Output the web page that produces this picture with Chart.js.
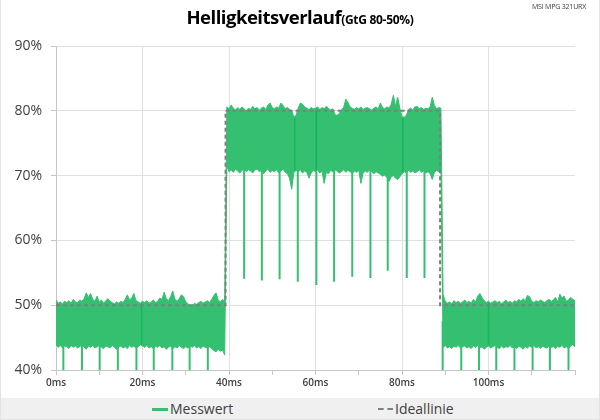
<!DOCTYPE html>
<html><head><meta charset="utf-8">
<script src="https://cdn.jsdelivr.net/npm/chart.js@4"></script>
<style>
body{margin:0;background:#fff;}
#wrap{position:relative;width:600px;height:420px;background:#fff;overflow:hidden;box-sizing:border-box;border-left:1px solid #e3e3e3;border-right:1px solid #e3e3e3;border-bottom:1px solid #e3e3e3;}
#c{position:absolute;left:-1px;top:0;}
#title{position:absolute;left:0;top:3px;width:598px;text-align:center;color:#000;font-family:"Open Sans",sans-serif;font-weight:bold;white-space:nowrap;line-height:28px;}
#title .t1{font-size:18.5px;letter-spacing:-0.5px;}
#title .t2{font-size:12px;letter-spacing:-0.3px;}
#mark{position:absolute;right:13px;top:2px;font-family:"Open Sans",sans-serif;font-size:7px;letter-spacing:-0.2px;color:#404040;}
#legend{position:absolute;left:0;top:398px;width:598px;height:21px;background:#f0f0f0;font-family:"Open Sans",sans-serif;font-size:14px;color:#404040;}
.li{position:absolute;top:0;line-height:21px;white-space:nowrap;}
.sw{display:inline-block;width:16px;height:0;vertical-align:middle;margin-right:2px;position:relative;top:-1px;}
</style>
</head><body>
<div id="wrap">
<canvas id="c" width="600" height="398"></canvas>
<div id="title"><span class="t1">Helligkeitsverlauf</span><span class="t2">(GtG 80-50%)</span></div>
<div id="mark">MSI MPG 321URX</div>
<div id="legend">
  <div class="li" style="left:151px"><span class="sw" style="border-top:3px solid #34c070"></span>Messwert</div>
  <div class="li" style="left:377px"><span class="sw" style="border-top:2px dashed #808080;width:15px"></span>Ideallinie</div>
</div>
</div>
<script>
// sample spacing of the measurement (ms)
const sampleMs = 0.5;
const seriesNames = ["Messwert", "Ideallinie"];
const xTickLabels = ["0ms","20ms","40ms","60ms","80ms","100ms"];
const yTickLabels = ["40%","50%","60%","70%","80%","90%"];

// upper edge of the measured brightness band (%), one value per 0.5 ms, 0..120 ms
const upperEdge = [
 50.8,50.3,50.5,50.2,50.6,50.4,50.7,50.3,50.9,50.5,
 50.4,50.8,50.6,51.0,51.9,51.2,51.8,50.9,50.6,51.4,
 50.5,50.8,50.3,50.7,51.0,50.6,50.4,50.2,50.5,50.3,
 50.6,50.4,50.9,51.6,50.8,51.1,51.8,50.7,50.5,50.3,
 50.6,50.4,50.7,50.3,50.5,50.8,50.4,50.6,51.1,50.9,
 52.0,51.0,50.7,51.3,52.2,50.9,50.6,51.0,51.6,51.3,
 50.5,50.2,50.0,49.9,50.3,50.1,50.4,50.6,50.3,50.5,
 50.7,50.4,50.9,51.5,51.9,50.8,50.5,50.9,50.6,
 80.6,
 80.3,80.9,80.4,80.1,80.5,80.2,80.6,80.3,80.0,80.4,
 80.2,80.7,80.3,80.5,80.1,80.4,80.6,80.2,80.9,81.2,
 80.5,80.3,80.6,80.4,81.2,80.8,80.3,80.5,80.2,80.0,
 79.0,79.3,80.4,81.2,81.0,80.6,80.4,80.2,80.5,80.3,
 80.4,80.6,80.2,80.5,80.3,80.7,80.4,80.1,80.3,79.4,
 79.3,79.6,80.2,80.5,81.8,81.3,80.6,80.4,80.2,80.5,
 80.3,80.6,80.2,80.4,80.5,80.3,80.1,80.4,80.6,80.3,
 81.2,80.5,80.3,80.6,80.4,81.0,82.4,80.7,82.1,80.4,
 79.1,79.0,79.3,80.2,80.4,80.1,80.6,80.7,80.3,80.5,
 80.2,80.4,80.3,80.6,82.1,80.8,80.3,80.5,80.4,
 51.6,
 50.6,50.3,50.5,50.2,50.7,50.4,50.6,50.3,50.5,50.8,
 50.4,50.6,50.3,50.9,50.5,51.4,51.8,51.2,50.7,50.4,
 50.6,50.3,50.5,50.7,50.4,50.6,50.2,50.5,50.8,50.4,
 50.6,50.3,50.7,50.5,50.9,50.6,51.0,50.7,51.5,51.3,
 50.6,50.4,50.7,50.5,50.8,50.6,50.4,50.7,50.9,50.6,
 50.8,51.2,50.5,51.7,51.1,51.4,50.6,50.8,51.2,50.9,50.7
];
// lower edge of the measured brightness band (%)
const lowerEdge = [
 43.9,43.5,43.8,43.4,43.7,43.6,43.3,43.8,43.5,43.7,
 43.4,43.6,43.9,43.5,43.2,43.7,43.5,43.8,43.4,43.6,
 43.8,43.5,43.3,43.7,43.6,43.4,43.8,43.5,43.2,43.6,
 43.7,43.4,43.6,43.3,43.8,43.5,43.7,43.4,43.6,43.9,
 43.7,43.5,43.8,43.4,43.6,43.3,43.7,43.5,43.8,43.4,
 43.6,43.2,43.5,43.7,43.3,43.6,43.4,43.8,43.5,43.3,
 43.6,43.4,43.7,43.5,43.8,43.4,43.6,43.3,43.7,43.5,
 43.4,43.6,43.3,43.0,42.8,43.2,42.9,43.1,42.3,
 71.5,
 70.6,70.9,70.5,71.0,70.7,70.4,70.8,71.1,70.6,70.9,
 70.7,70.4,70.9,71.0,70.6,70.8,70.3,70.7,71.0,70.5,
 70.8,70.6,70.9,70.4,70.7,71.0,70.5,70.3,69.6,67.9,
 70.5,70.8,70.6,70.9,70.4,70.7,70.5,69.6,70.4,70.8,
 70.6,70.9,70.4,70.7,68.8,70.5,70.3,70.8,70.6,70.9,
 70.7,70.4,70.6,70.9,70.5,70.8,70.6,70.3,70.7,70.5,
 70.8,68.8,70.4,70.7,70.5,70.9,70.6,70.3,70.6,70.4,
 70.2,69.9,70.1,69.7,69.1,69.8,70.0,69.6,69.4,69.8,
 70.3,70.6,70.4,70.8,70.5,70.7,70.4,70.6,70.9,70.5,
 70.7,70.4,70.6,70.3,69.4,70.5,70.8,70.6,70.9,
 43.5,
 43.8,43.4,43.6,43.3,43.7,43.5,43.8,43.4,43.6,43.7,
 43.4,43.6,43.3,43.7,43.5,43.8,43.4,43.6,43.2,43.5,
 43.7,43.4,43.6,43.8,43.5,43.3,43.7,43.4,43.6,43.5,
 43.8,43.4,43.6,43.3,43.7,43.5,43.2,43.6,43.4,43.7,
 43.5,43.8,43.4,43.6,43.3,43.7,43.5,43.4,43.7,43.5,
 43.6,43.3,43.7,43.5,43.8,43.4,43.6,43.3,43.7,43.9,43.5
];
// short dark dips (backlight / PWM) : time (ms) and lowest value (%)
const dipTimes = [1.7,6.0,10.1,14.3,18.6,22.6,26.9,30.9,35.1,
 43.5,47.6,51.7,55.9,60.2,64.3,68.5,72.7,76.7,81.1,85.2,
 89.4,93.7,97.8,101.8,106.0,110.2,114.2,118.5];
const dipMins = [40,40,40,40,40,40,40,40,40,
 54.1,53.8,54.0,53.6,53.1,53.6,54.4,54.2,55.3,54.2,54.2,
 40,40,40,40,40,40,40,40];
// denser (darker) strokes inside the band (ms)
const denseTimes = [19.8,55.2,60.2,80.2,100.0];
// ideal response: times (ms) and level (%)
const idealTimes = [0,39.2,39.2,88.8,88.8,120];
const idealValues = [50,50,80,80,50,50];

const GREEN = '#34c070';
const upperPts = upperEdge.map((v,i)=>({x:i*sampleMs,y:v}));
const lowerPts = lowerEdge.map((v,i)=>({x:i*sampleMs,y:v}));
const dipPts = [];
dipTimes.forEach((t,k)=>{
  const i = Math.round(t/sampleMs);
  dipPts.push({x:t,y:(upperEdge[i]+lowerEdge[i])/2},{x:t,y:dipMins[k]},{x:t,y:null});
});
const densePts = [];
denseTimes.forEach(t=>{
  const i = Math.round(t/sampleMs);
  densePts.push({x:t,y:upperEdge[i]-0.2},{x:t,y:lowerEdge[i]+0.2},{x:t,y:null});
});
const idealPts = idealTimes.map((t,i)=>({x:t,y:idealValues[i]}));

new Chart(document.getElementById('c'), {
  type:'line',
  data:{datasets:[
    {label:seriesNames[1], data:idealPts, borderColor:'#7f7f7f', borderWidth:2, borderDash:[4,3], pointRadius:0, fill:false, order:0},
    {label:seriesNames[0], data:upperPts, borderColor:GREEN, backgroundColor:GREEN, borderWidth:1, pointRadius:0, fill:'+1', order:3},
    {label:'_lower', data:lowerPts, borderColor:GREEN, borderWidth:1, pointRadius:0, fill:false, order:3},
    {label:'_dips', data:dipPts, borderColor:GREEN, borderWidth:2, pointRadius:0, fill:false, spanGaps:false, order:2},
    {label:'_dense', data:densePts, borderColor:'#17b359', borderWidth:1.5, pointRadius:0, fill:false, spanGaps:false, order:1}
  ]},
  options:{
    responsive:false, animation:false, devicePixelRatio:1,
    layout:{padding:{top:46,right:25,left:0,bottom:0}},
    plugins:{legend:{display:false}, tooltip:{enabled:false}},
    elements:{line:{tension:0}},
    scales:{
      x:{type:'linear', min:0, max:120,
        afterFit:s=>{s.height=28;},
        border:{color:'#c6c6c6', width:1},
        grid:{color:c=>(c.tick && c.tick.value%20===0 && c.tick.value>0 && c.tick.value<120)?'#e0e0e0':'rgba(0,0,0,0)',
              tickColor:'#c6c6c6', tickLength:5, drawTicks:true},
        ticks:{stepSize:10, autoSkip:false, maxRotation:0, padding:2, color:'#404040',
          font:{family:'"Open Sans"', size:10, weight:'600'},
          callback:v=>{const k=xTickLabels.indexOf(v+'ms'); return (v%20===0 && k>=0)?xTickLabels[k]:'';}}
      },
      y:{min:40, max:90,
        afterFit:s=>{s.width=56;},
        border:{color:'#c6c6c6', width:1},
        grid:{color:'#e0e0e0', tickColor:'#c6c6c6', tickLength:5},
        ticks:{stepSize:10, padding:9, color:'#404040',
          font:{family:'"Open Sans"', size:14},
          callback:v=>{const k=yTickLabels.indexOf(v+'%'); return k>=0?yTickLabels[k]:'';}}
      }
    }
  }
});
</script>
</body></html>
